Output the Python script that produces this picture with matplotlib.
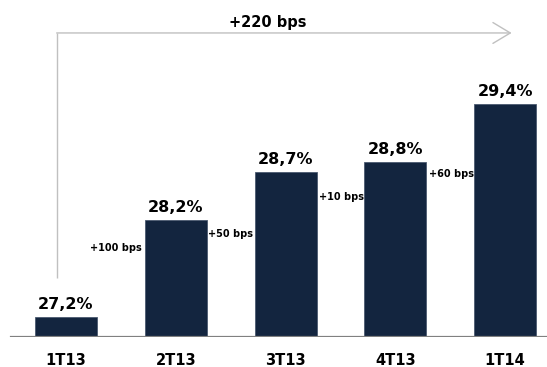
import numpy as np
import matplotlib
matplotlib.use('Agg')
import matplotlib.pyplot as plt

# data
quarters = ['1T13', '2T13', '3T13', '4T13', '1T14']
margin = [27.2, 28.2, 28.7, 28.8, 29.4]  # %
steps = ['+100 bps', '+50 bps', '+10 bps', '+60 bps']
total = '+220 bps'

base = 27.0
bar_color = '#13253f'

plt.rcParams['font.family'] = 'DejaVu Sans'
plt.rcParams['font.weight'] = 'bold'

fig = plt.figure(figsize=(5.47, 3.67), dpi=100)
ax = fig.add_axes([0, 0.083, 1, 0.917])

x = np.arange(len(quarters))
heights = [m - base for m in margin]
ax.bar(x, heights, bottom=base, width=0.565, color=bar_color,
       edgecolor='#4a5a70', linewidth=0.6)

# value labels
for xi, m in zip(x, margin):
    ax.annotate(('%.1f%%' % m).replace('.', ','), (xi, m), xytext=(0, 4),
                textcoords='offset points', ha='center', va='bottom',
                fontsize=11.5, fontweight='bold', color='black')

# step labels (between bars)
ax.text(0.692, 27.912, steps[0], ha='right', va='center', fontsize=7, fontweight='bold')
ax.text(1.289, 28.057, steps[1], ha='left', va='center', fontsize=7, fontweight='bold')
ax.text(2.300, 28.440, steps[2], ha='left', va='center', fontsize=7, fontweight='bold')
ax.text(3.306, 28.677, steps[3], ha='left', va='center', fontsize=7, fontweight='bold')

# total arrow
arrow_y = 30.139
ax.plot([-0.085, -0.085], [27.605, arrow_y], color='#c0c0c0', lw=1.0,
        solid_capstyle='butt')
ax.annotate('', xy=(4.059, arrow_y), xytext=(-0.085, arrow_y),
            arrowprops=dict(arrowstyle='->, head_length=1.25, head_width=0.75',
                            mutation_scale=10, color='#c0c0c0', lw=1.0,
                            shrinkA=0, shrinkB=0))
ax.text(1.84, 30.25, total, ha='center', va='center', fontsize=10.5, fontweight='bold')

# baseline
ax.axhline(base, xmin=11 / 547, xmax=1, color='#808080', lw=1.6)

ax.set_xlim(-0.601, 4.381)
ax.set_ylim(base, base + 336.5 / 96.7)
for s in ax.spines.values():
    s.set_visible(False)
ax.set_yticks([])
ax.set_xticks(x)
ax.set_xticklabels(quarters, fontsize=10.5, fontweight='bold')
ax.tick_params(axis='x', length=0, pad=12)

fig.savefig('out.png', dpi=100)
